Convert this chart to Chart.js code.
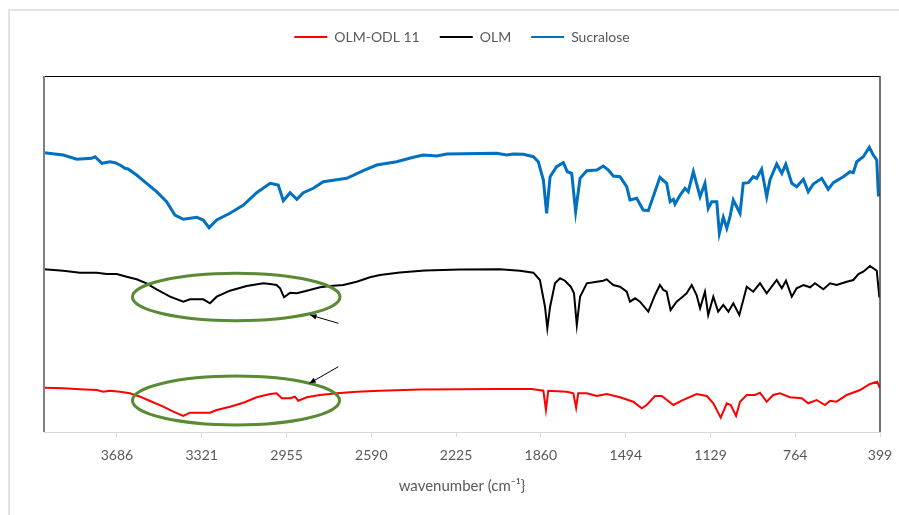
<!DOCTYPE html>
<html>
<head>
<meta charset="utf-8">
<script src="https://cdn.jsdelivr.net/npm/chart.js@4.4.1/dist/chart.umd.min.js"></script>
<style>
html, body { margin: 0; padding: 0; background: #fff; }
</style>
</head>
<body>
<canvas id="grafico" width="899" height="515"></canvas>
<script>
// wavenumber ticks shown on the x axis
const tickLabels = [3686, 3321, 2955, 2590, 2225, 1860, 1494, 1129, 764, 399];

// Sucralose (blue)
const sucraloseX = [4000, 3917, 3859, 3795, 3780, 3751, 3716, 3694, 3673, 3651, 3638, 3601, 3558, 3515, 3472, 3436, 3400, 3342, 3314, 3289, 3256, 3199, 3141, 3084, 3026, 2991, 2969, 2940, 2911, 2883, 2840, 2797, 2725, 2696, 2625, 2567, 2481, 2409, 2366, 2309, 2265, 2050, 2007, 1979, 1935, 1892, 1871, 1849, 1835, 1820, 1792, 1763, 1746, 1727, 1710, 1691, 1662, 1619, 1591, 1569, 1548, 1519, 1490, 1476, 1447, 1419, 1397, 1376, 1347, 1318, 1303, 1289, 1282, 1260, 1239, 1225, 1203, 1174, 1153, 1139, 1124, 1102, 1091, 1074, 1059, 1045, 1031, 1002, 988, 966, 945, 930, 909, 887, 873, 844, 822, 805, 779, 758, 729, 708, 686, 650, 622, 600, 557, 528, 514, 499, 471, 445, 428, 413, 406, 399];
const sucraloseY = [279.3, 277, 272.7, 273.7, 275.3, 268.7, 270.3, 269.3, 267, 263.7, 263, 257, 248.7, 240.3, 230.3, 217, 212.7, 214.7, 212, 204.3, 212, 218.7, 227, 239.3, 248.7, 247, 231.3, 239.3, 232.7, 239.3, 243.7, 250.3, 252.7, 253.7, 261.3, 267, 270.3, 274.7, 277, 276, 278, 278.7, 277, 278, 277.7, 275.3, 270.3, 252, 218.7, 255.3, 265.3, 269.3, 260.3, 258.7, 220.3, 253.7, 261.3, 262, 266, 262, 256, 255.3, 245.3, 232, 233.7, 222, 221.3, 235.3, 254.7, 248.7, 230.3, 232.7, 228, 237, 243.7, 240.3, 260.3, 235.3, 248.7, 223.7, 230.3, 230.3, 198.7, 214.7, 203.7, 215.3, 232, 218.7, 248.7, 249.3, 255.3, 253.7, 262.7, 235.3, 252, 268, 258.7, 267.7, 248.7, 245.3, 252.7, 240.3, 248, 253.7, 242.7, 249.3, 255.3, 260.3, 259.3, 270.3, 275.3, 284.7, 277, 272, 237, 237];

// OLM (black)
const olmX = [4000, 3917, 3845, 3773, 3730, 3687, 3644, 3601, 3558, 3515, 3457, 3400, 3371, 3314, 3285, 3256, 3199, 3127, 3055, 3026, 2998, 2983, 2966, 2940, 2911, 2868, 2811, 2768, 2711, 2653, 2596, 2553, 2467, 2359, 2208, 2036, 1950, 1892, 1864, 1842, 1832, 1820, 1799, 1777, 1756, 1731, 1717, 1705, 1691, 1662, 1619, 1591, 1576, 1548, 1519, 1490, 1476, 1454, 1433, 1397, 1368, 1347, 1332, 1318, 1301, 1275, 1249, 1232, 1210, 1189, 1174, 1153, 1139, 1117, 1096, 1074, 1052, 1031, 1005, 973, 945, 916, 887, 844, 822, 804, 779, 758, 729, 700, 679, 643, 614, 586, 542, 514, 492, 471, 442, 413, 402, 399];
const olmY = [162.7, 161.3, 159.3, 159.3, 158, 158, 155.3, 152.7, 148.7, 142.7, 135.3, 130.3, 132.7, 132.7, 128.7, 135.3, 141.3, 146, 148.7, 148, 147, 143.7, 134.7, 139.3, 138.7, 141.3, 144.7, 146, 147, 150.3, 154.7, 157, 159.5, 161.5, 162.5, 162.7, 161.3, 159.3, 152, 125.3, 103.7, 125.3, 148.7, 153.7, 151.3, 145.3, 138.7, 107, 135.3, 148.7, 150.3, 151.3, 152.7, 147, 145.3, 140.3, 130.3, 133.7, 130.3, 120.3, 137, 147, 142, 140.3, 122, 130.3, 135.3, 138.7, 147, 137, 123.7, 140.3, 117, 135.3, 120.3, 127, 120.3, 128.7, 117, 145.3, 140.3, 148.7, 138.7, 152, 143.7, 151.3, 135.3, 143.7, 147, 144.7, 148.7, 142.7, 148.7, 147, 150.3, 152, 158, 160.3, 166, 161.3, 135.3, 135];

// OLM-ODL 11 (red)
const odlX = [4000, 3917, 3845, 3773, 3745, 3716, 3673, 3630, 3586, 3543, 3486, 3443, 3400, 3371, 3285, 3256, 3199, 3141, 3084, 3026, 2998, 2976, 2940, 2919, 2905, 2868, 2811, 2739, 2653, 2553, 2380, 2036, 1899, 1849, 1838, 1828, 1748, 1720, 1708, 1699, 1662, 1619, 1576, 1519, 1462, 1425, 1404, 1368, 1339, 1289, 1253, 1189, 1145, 1117, 1085, 1059, 1042, 1019, 1002, 973, 937, 916, 887, 859, 830, 787, 736, 708, 672, 636, 614, 586, 542, 485, 442, 411, 399];
const odlY = [44.3, 43.7, 42.7, 42, 40.3, 41.3, 40.3, 38.7, 35.3, 31, 25.3, 20.3, 16, 19.3, 19.3, 22, 25.3, 29.3, 34.7, 38, 38.7, 33.7, 33.7, 35.3, 31.3, 34.7, 37, 38.7, 40.3, 41.3, 42.5, 43, 43, 41.3, 22, 41.3, 40.3, 38.7, 24.3, 38.7, 38.7, 36, 38, 34.7, 30.3, 23.7, 27, 36, 36, 27, 31.3, 38, 36, 28.7, 14.3, 28.7, 27, 16, 30.3, 37, 37, 39.3, 30.3, 37, 38.7, 34.7, 33.7, 28.7, 32, 27, 31.3, 30.3, 37, 42, 48, 50.3, 43.7];

// highlighted regions: [centre wavenumber, centre value, half width (cm-1), half height]
const ellipses = [[3172, 135, 447, 23.7], [3173, 31.5, 446, 24.5]];
// arrows: [from x, from y, to x, to y]
const arrows = [[2732, 108.7, 2854, 117], [2732, 65.3, 2857, 48.7]];

function points(xs, ys) {
    return xs.map((x, i) => ({ x: x, y: ys[i] }));
}

const legendGap = {
    id: 'legendGap',
    beforeInit(chart) {
        const fit = chart.legend.fit;
        chart.legend.fit = function() {
            fit.bind(chart.legend)();
            this.height += 22;
        };
    }
};

const decorations = {
    id: 'decorations',
    beforeDraw(chart) {
        const c = chart.ctx;
        c.save();
        c.strokeStyle = '#e3e3e3';
        c.lineWidth = 2;
        c.strokeRect(9, 10, 920, 540);
        c.restore();
    },
    afterDatasetsDraw(chart) {
        const c = chart.ctx;
        const a = chart.chartArea;
        const xs = chart.scales.x;
        const ys = chart.scales.y;
        c.save();
        // plot frame
        c.strokeStyle = '#000';
        c.lineWidth = 1;
        c.beginPath();
        c.moveTo(a.left, a.top + 0.5);
        c.lineTo(a.right, a.top + 0.5);
        c.stroke();
        c.strokeStyle = '#404040';
        c.lineWidth = 1.5;
        c.beginPath();
        c.moveTo(a.right, a.top);
        c.lineTo(a.right, a.bottom);
        c.stroke();
        c.strokeStyle = '#808080';
        c.lineWidth = 2;
        c.beginPath();
        c.moveTo(a.left, a.top);
        c.lineTo(a.left, a.bottom);
        c.stroke();

        // green ellipses
        c.strokeStyle = '#5a8a34';
        c.lineWidth = 3;
        ellipses.forEach(e => {
            const cx = xs.getPixelForValue(e[0]);
            const cy = ys.getPixelForValue(e[1]);
            const rx = Math.abs(xs.getPixelForValue(e[0] - e[2]) - cx);
            const ry = Math.abs(ys.getPixelForValue(e[1] + e[3]) - cy);
            c.beginPath();
            c.ellipse(cx, cy, rx, ry, 0, 0, Math.PI * 2);
            c.stroke();
        });

        // arrows
        c.strokeStyle = '#000';
        c.fillStyle = '#000';
        c.lineWidth = 1;
        arrows.forEach(ar => {
            const x1 = xs.getPixelForValue(ar[0]), y1 = ys.getPixelForValue(ar[1]);
            const x2 = xs.getPixelForValue(ar[2]), y2 = ys.getPixelForValue(ar[3]);
            const ang = Math.atan2(y2 - y1, x2 - x1);
            c.beginPath();
            c.moveTo(x1, y1);
            c.lineTo(x2, y2);
            c.stroke();
            c.beginPath();
            c.moveTo(x2, y2);
            c.lineTo(x2 - 7 * Math.cos(ang - 0.4), y2 - 7 * Math.sin(ang - 0.4));
            c.lineTo(x2 - 7 * Math.cos(ang + 0.4), y2 - 7 * Math.sin(ang + 0.4));
            c.closePath();
            c.fill();
        });
        c.restore();
    }
};

const ctx = document.getElementById('grafico').getContext('2d');
const chart = new Chart(ctx, {
    type: 'line',
    data: {
        datasets: [{
            label: 'OLM-ODL 11',
            data: points(odlX, odlY),
            borderColor: '#ff0000',
            backgroundColor: '#ff0000',
            borderWidth: 2
        }, {
            label: 'OLM',
            data: points(olmX, olmY),
            borderColor: '#000000',
            backgroundColor: '#000000',
            borderWidth: 2
        }, {
            label: 'Sucralose',
            data: points(sucraloseX, sucraloseY),
            borderColor: '#0070c0',
            backgroundColor: '#0070c0',
            borderWidth: 3
        }]
    },
    options: {
        responsive: false,
        animation: false,
        devicePixelRatio: 1,
        elements: {
            point: { radius: 0 },
            line: { tension: 0 }
        },
        layout: {
            padding: { left: 44, right: 19, top: 10, bottom: 0 }
        },
        scales: {
            x: {
                type: 'linear',
                reverse: true,
                min: 399,
                max: 4000,
                afterBuildTicks: axis => {
                    axis.ticks = tickLabels.map(v => ({ value: v }));
                },
                afterFit: axis => {
                    axis.height = 83;
                    axis.paddingLeft = 0;
                    axis.paddingRight = 0;
                },
                ticks: {
                    color: '#595959',
                    font: { family: 'Lato', size: 14 },
                    padding: 10,
                    maxRotation: 0,
                    autoSkip: false,
                    callback: v => String(v)
                },
                grid: {
                    drawOnChartArea: false,
                    drawTicks: true,
                    tickLength: 5,
                    color: '#d9d9d9'
                },
                border: { color: '#d9d9d9', width: 1 },
                title: {
                    display: true,
                    text: 'wavenumber (cm\u207B\u00B9}',
                    color: '#595959',
                    font: { family: 'Lato', size: 15 },
                    padding: { top: 2, bottom: 20 }
                }
            },
            y: {
                display: false,
                min: 0,
                max: 356
            }
        },
        plugins: {
            legend: {
                position: 'top',
                labels: {
                    color: '#595959',
                    font: { family: 'Lato', size: 14 },
                    boxWidth: 33,
                    boxHeight: 2,
                    padding: 20,
                    generateLabels: ch => Chart.defaults.plugins.legend.labels.generateLabels(ch).map(l => Object.assign(l, { lineWidth: 0 }))
                }
            },
            tooltip: { enabled: false }
        }
    },
    plugins: [legendGap, decorations]
});
</script>
</body>
</html>
